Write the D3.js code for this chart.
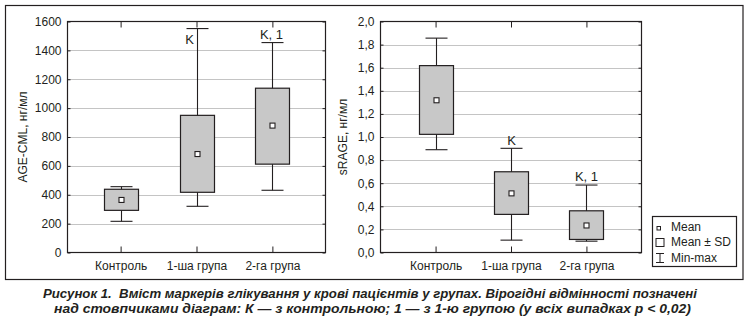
<!DOCTYPE html>
<html><head><meta charset="utf-8">
<script src="https://cdn.jsdelivr.net/npm/d3@7"></script>
<style>
body{margin:0;background:#fff;}
text{font-family:"Liberation Sans",Arial,sans-serif;fill:#231f20;}
</style></head>
<body><svg id="c" width="749" height="322"></svg>
<script>
const categories = ["Контроль", "1-ша група", "2-га група"];
// AGE-CML, нг/мл
const ageMin  = [216, 320, 431];
const ageLow  = [292, 417, 612];   // mean - SD
const ageMean = [364, 682, 879];
const ageHigh = [438, 950, 1138];  // mean + SD
const ageMax  = [456, 1551, 1454];
const ageNotes = ["", "K", "K, 1"];
const ageNoteAt = [null, 1446, 1480];
const ageTicks = [0, 200, 400, 600, 800, 1000, 1200, 1400, 1600];
// sRAGE, нг/мл
const sMin  = [0.89, 0.107, 0.098];
const sLow  = [1.023, 0.33, 0.113];
const sMean = [1.318, 0.512, 0.234];
const sHigh = [1.618, 0.699, 0.361];
const sMax  = [1.856, 0.902, 0.584];
const sNotes = ["", "K", "K, 1"];
const sNoteAt = [null, 0.935, 0.623];
const sTicks = [0, 0.2, 0.4, 0.6, 0.8, 1.0, 1.2, 1.4, 1.6, 1.8, 2.0];
const legendLabels = ["Mean", "Mean ± SD", "Min-max"];
const captionLines = [
  "Рисунок 1.\u00a0 Вміст маркерів глікування у крові пацієнтів у групах. Вірогідні відмінності позначені",
  "над стовпчиками діаграм: К — з контрольною; 1 — з 1-ю групою (у всіх випадках p < 0,02)"
];

const svg = d3.select("#c");
const ink = "#231f20";

svg.append("rect").attr("x",5.5).attr("y",5.5).attr("width",737.5).attr("height",274)
  .attr("fill","none").attr("stroke",ink).attr("stroke-width",1.2);

function panel(o){
  const g = svg.append("g");
  const x = d3.scalePoint().domain(categories).range([o.x0,o.x1]).padding(o.pad);
  const y = d3.scaleLinear().domain([o.ticks[0], o.ticks[o.ticks.length-1]]).range([o.y0,o.y1]);
  // grid
  g.selectAll(".grid").data(o.ticks.slice(1,-1)).join("line")
    .attr("x1",o.x0).attr("x2",o.x1).attr("y1",d=>Math.round(y(d))+0.5).attr("y2",d=>Math.round(y(d))+0.5)
    .attr("stroke","#c4c4c4").attr("stroke-width",1);
  // left axis
  const ax = g.append("g").attr("transform",`translate(${o.x0},0)`)
    .call(d3.axisLeft(y).tickValues(o.ticks).tickSize(-3).tickPadding(6).tickFormat(o.fmt));
  ax.select(".domain").remove();
  ax.selectAll("line").attr("stroke",ink);
  ax.selectAll("text").attr("font-size",12).attr("fill",ink).attr("font-family","Liberation Sans, Arial, sans-serif");
  // right ticks
  const ar = g.append("g").attr("transform",`translate(${o.x1},0)`)
    .call(d3.axisRight(y).tickValues(o.ticks).tickSize(-3).tickFormat(""));
  ar.select(".domain").remove();
  ar.selectAll("line").attr("stroke",ink);
  // bottom axis
  const ab = g.append("g").attr("transform",`translate(0,${o.y0})`)
    .call(d3.axisBottom(x).tickSize(-6).tickPadding(9));
  ab.select(".domain").remove();
  ab.selectAll("line").attr("stroke",ink);
  ab.selectAll("text").attr("font-size",12).attr("fill",ink).attr("font-family","Liberation Sans, Arial, sans-serif");
  const at = g.append("g").attr("transform",`translate(0,${o.y1})`)
    .call(d3.axisTop(x).tickSize(-6).tickFormat(""));
  at.select(".domain").remove();
  at.selectAll("line").attr("stroke",ink);
  // frame
  g.append("rect").attr("x",o.x0).attr("y",o.y1).attr("width",o.x1-o.x0).attr("height",o.y0-o.y1)
    .attr("fill","none").attr("stroke",ink).attr("stroke-width",1.2);
  // boxes
  const bw = 34, cw = 22;
  categories.forEach((c,i)=>{
    const cx = Math.round(x(c))+0.5;
    g.append("line").attr("x1",cx).attr("x2",cx).attr("y1",y(o.max[i])).attr("y2",y(o.min[i]))
      .attr("stroke",ink).attr("stroke-width",1.1);
    [o.max[i],o.min[i]].forEach(v=>{
      g.append("line").attr("x1",cx-cw/2).attr("x2",cx+cw/2).attr("y1",y(v)).attr("y2",y(v))
        .attr("stroke",ink).attr("stroke-width",1.1);
    });
    g.append("rect").attr("x",cx-bw/2).attr("y",y(o.high[i])).attr("width",bw)
      .attr("height",y(o.low[i])-y(o.high[i])).attr("fill","#c8c8c8").attr("stroke",ink).attr("stroke-width",1.2);
    g.append("rect").attr("x",cx-2.5).attr("y",y(o.mean[i])-2.5).attr("width",5).attr("height",5)
      .attr("fill","#fff").attr("stroke",ink).attr("stroke-width",1.1);
    if(o.notes[i]){
      g.append("text").attr("x",cx+o.noteDx[i]).attr("y",y(o.noteAt[i])).attr("text-anchor","middle")
        .attr("font-size",13).text(o.notes[i]);
    }
  });
  // y label
  g.append("text").attr("transform",`translate(${o.labX},${(o.y0+o.y1)/2}) rotate(-90)`)
    .attr("text-anchor","middle").attr("font-size",12).text(o.label);
}

panel({x0:67.5,x1:325.5,y0:252.5,y1:21.5,pad:0.7,ticks:ageTicks,fmt:d3.format("d"),
  min:ageMin,low:ageLow,mean:ageMean,high:ageHigh,max:ageMax,notes:ageNotes,noteAt:ageNoteAt,noteDx:[0,-8,-1],
  label:"AGE-CML, нг/мл",labX:27});
panel({x0:380.5,x1:641.5,y0:252.5,y1:21.5,pad:0.73,ticks:sTicks,fmt:d=>d3.format(".1f")(d).replace(".",","),
  min:sMin,low:sLow,mean:sMean,high:sHigh,max:sMax,notes:sNotes,noteAt:sNoteAt,noteDx:[0,0,0],
  label:"sRAGE, нг/мл",labX:347});

// legend
const lg = svg.append("g");
lg.append("rect").attr("x",652.5).attr("y",216.5).attr("width",84).attr("height",50)
  .attr("fill","#fff").attr("stroke",ink).attr("stroke-width",1.2);
const ly = [227,242,258];
lg.selectAll("text").data(legendLabels).join("text").attr("x",671).attr("y",(d,i)=>ly[i]+4)
  .attr("font-size",12).text(d=>d);
lg.append("rect").attr("x",657).attr("y",ly[0]-0.5).attr("width",3.5).attr("height",3.5)
  .attr("fill","#fff").attr("stroke",ink).attr("stroke-width",1);
lg.append("rect").attr("x",656).attr("y",ly[1]-3.5).attr("width",8).attr("height",8)
  .attr("fill","#fff").attr("stroke",ink).attr("stroke-width",1);
lg.append("path").attr("d",`M656,${ly[2]-4.5}H664M660,${ly[2]-4.5}V${ly[2]+4.5}M656,${ly[2]+4.5}H664`)
  .attr("fill","none").attr("stroke",ink).attr("stroke-width",1);

// caption
const cap = svg.append("g");
const capX = [[43,697],[54,691]];
const capY = [297.5,312.5];
captionLines.forEach((t,i)=>{
  cap.append("text").attr("x",capX[i][0]).attr("y",capY[i]).attr("textLength",capX[i][1]-capX[i][0])
    .attr("lengthAdjust","spacingAndGlyphs")
    .attr("font-family","Liberation Sans Narrow, DejaVu Sans Condensed, sans-serif")
    .attr("font-style","italic").attr("font-weight","bold").attr("font-size",13).text(t);
});
</script></body></html>
